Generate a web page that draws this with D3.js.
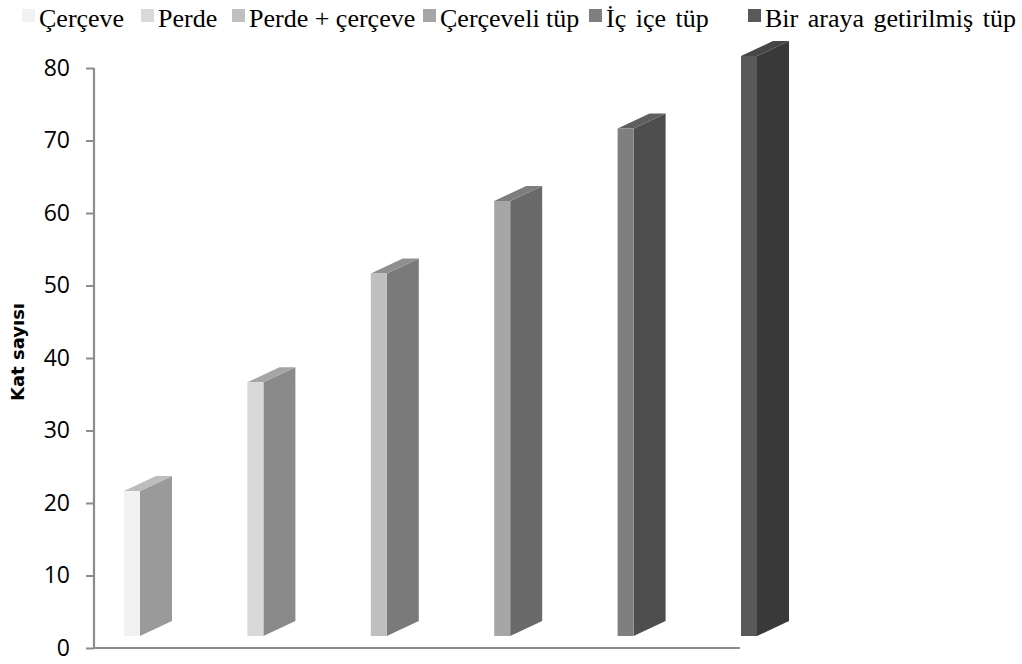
<!DOCTYPE html>
<html>
<head>
<meta charset="utf-8">
<script src="https://cdn.jsdelivr.net/npm/d3@7/dist/d3.min.js"></script>
<style>
  html, body { margin: 0; padding: 0; background: #fff; }
  svg { display: block; }
</style>
</head>
<body>
<svg id="chart" width="1022" height="664"></svg>
<script>
// Structural system types and the storey count each one reaches
const systems = ["Çerçeve", "Perde", "Perde + çerçeve", "Çerçeveli tüp", "İç içe tüp", "Bir araya getirilmiş tüp"];
const storeys = [20, 35, 50, 60, 70, 80];
const yTicks = [0, 10, 20, 30, 40, 50, 60, 70, 80];

// Face shades per series: front, side, top
const frontColors = ["#f2f2f2", "#d9d9d9", "#bfbfbf", "#a6a6a6", "#7f7f7f", "#595959"];
const sideColors  = ["#9a9a9a", "#8a8a8a", "#7a7a7a", "#6a6a6a", "#4e4e4e", "#393939"];
const topColors   = ["#bdbdbd", "#a5a5a5", "#8f8f8f", "#7e7e7e", "#5f5f5f", "#464646"];

const svg = d3.select("#chart");

const axisLeftX = 94, axisRightX = 740;
const y = d3.scaleLinear().domain([0, 80]).range([648, 68]);
const x = d3.scalePoint().domain(systems).range([124, 741]);

const frontW = 16;      // width of a column's front face
const depthX = 32, depthY = 15;   // oblique depth of the 3D columns
const floorLift = 12;   // columns stand slightly above the axis baseline

// Axes
const axisColor = "#8c8c8c";
svg.append("line")
  .attr("x1", axisLeftX).attr("x2", axisLeftX)
  .attr("y1", y(80)).attr("y2", y(0))
  .attr("stroke", axisColor).attr("stroke-width", 2.2);
svg.append("line")
  .attr("x1", axisLeftX - 1).attr("x2", axisRightX)
  .attr("y1", y(0)).attr("y2", y(0))
  .attr("stroke", axisColor).attr("stroke-width", 2.2);

const yAxis = d3.axisLeft(y).tickValues(yTicks).tickSize(8).tickPadding(16).tickFormat(d3.format("d"));
const gy = svg.append("g").attr("transform", `translate(${axisLeftX},0)`).call(yAxis);
gy.select(".domain").remove();
gy.selectAll(".tick line").attr("stroke", axisColor).attr("stroke-width", 2);
gy.selectAll(".tick text")
  .attr("font-family", "'Open Sans', sans-serif")
  .attr("font-size", 23)
  .attr("fill", "#000");

svg.append("text")
  .attr("transform", `translate(24, 352) rotate(-90)`)
  .attr("text-anchor", "middle")
  .attr("font-family", "'DejaVu Sans', sans-serif")
  .attr("font-weight", "bold")
  .attr("font-size", 18)
  .attr("fill", "#000")
  .text("Kat sayısı");

// 3D columns
const data = systems.map((s, i) => ({ name: s, value: storeys[i], i }));
const bars = svg.append("g").selectAll("g").data(data).join("g");

bars.each(function(d) {
  const g = d3.select(this);
  const x0 = x(d.name), x1 = x0 + frontW;
  const yb = y(0) - floorLift, yt = y(d.value) - floorLift;
  // side face
  g.append("path")
    .attr("d", `M${x1},${yb} L${x1 + depthX},${yb - depthY} L${x1 + depthX},${yt - depthY} L${x1},${yt} Z`)
    .attr("fill", sideColors[d.i]);
  // top face
  g.append("path")
    .attr("d", `M${x0},${yt} L${x1},${yt} L${x1 + depthX},${yt - depthY} L${x0 + depthX},${yt - depthY} Z`)
    .attr("fill", topColors[d.i]);
  // front face
  g.append("rect")
    .attr("x", x0).attr("y", yt)
    .attr("width", frontW).attr("height", yb - yt)
    .attr("fill", frontColors[d.i]);
});

// Legend along the top: swatch left edges and word spacing per entry
const legendX = [22, 141, 232, 423, 589, 748];
const legendWordGap = [0, 0, 0, 0, 3, 3];
const legend = svg.append("g");
systems.forEach((s, i) => {
  const item = legend.append("g");
  item.append("rect")
    .attr("x", legendX[i]).attr("y", 9)
    .attr("width", 13).attr("height", 13)
    .attr("fill", frontColors[i]);
  item.append("text")
    .attr("x", legendX[i] + 17).attr("y", 27)
    .attr("font-family", "'Liberation Serif', 'Times New Roman', serif")
    .attr("font-size", 26)
    .attr("word-spacing", legendWordGap[i])
    .attr("fill", "#000")
    .text(s);
});
</script>
</body>
</html>
